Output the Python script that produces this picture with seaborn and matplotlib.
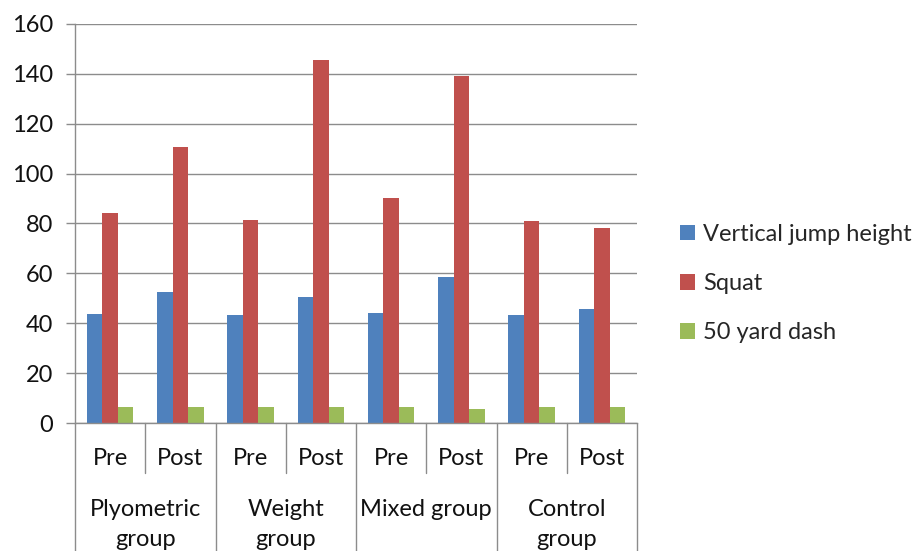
import pandas as pd
import seaborn as sns
import matplotlib.pyplot as plt

# Chart data
groups = [['Plyometric', 'group'], ['Weight', 'group'], ['Mixed group'], ['Control', 'group']]
phases = ['Pre', 'Post']
measures = ['Vertical jump height', 'Squat', '50 yard dash']

vertical_jump = [43.7, 52.4, 43.2, 50.4, 44.1, 58.5, 43.2, 45.6]
squat = [84.1, 110.5, 81.6, 145.4, 90.4, 139.3, 81.2, 78.0]
dash_50 = [6.5, 6.5, 6.5, 6.5, 6.5, 5.6, 6.5, 6.5]

colors = ['#4F81BD', '#C0504D', '#9BBB59']

# Build long-form table
slots = [f'{" ".join(g)}|{p}' for g in groups for p in phases]
rows = []
for name, vals in zip(measures, [vertical_jump, squat, dash_50]):
    for slot, v in zip(slots, vals):
        rows.append({'slot': slot, 'measure': name, 'value': v})
df = pd.DataFrame(rows)

sns.set_style('white')
plt.rcParams['font.family'] = ['Lato', 'DejaVu Sans']
fs = 17
grey = '#8c8c8c'
txt = '#111111'

fig = plt.figure(figsize=(9.23, 5.51), dpi=100)
ax = fig.add_axes([75 / 923, 1 - 423 / 551, (637 - 75) / 923, 399 / 551])

_ = sns.barplot(data=df, x='slot', y='value', hue='measure', order=slots,
                hue_order=measures, palette=colors, width=0.66, saturation=1,
                linewidth=0, ax=ax, legend=True)

# Axes styling
ax.set_ylim(0, 160)
ax.set_yticks(range(0, 161, 20))
ax.set_xlim(-0.5, len(slots) - 0.5)
ax.yaxis.grid(True, color=grey, linewidth=1)
ax.set_axisbelow(True)
for s in ['top', 'right']:
    ax.spines[s].set_visible(False)
for s in ['left', 'bottom']:
    ax.spines[s].set_color(grey)
    ax.spines[s].set_linewidth(1)
ax.tick_params(axis='y', length=6.5, color=grey, width=1, pad=9,
               labelsize=fs, labelcolor=txt, left=True)
ax.set_xticks([])
ax.set_xlabel('')
ax.set_ylabel('')

# Multi-level category axis
tr = ax.get_xaxis_transform()
for i, slot in enumerate(slots):
    ax.text(i, -0.088, slot.split('|')[1], transform=tr, ha='center',
            va='center', fontsize=fs, color=txt)
line_y = [-0.218, -0.292]
for j, g in enumerate(groups):
    for k, part in enumerate(g):
        ax.text(2 * j + 0.5, line_y[k], part, transform=tr, ha='center',
                va='center', fontsize=fs, color=txt)
for j in range(len(groups)):
    ax.plot([2 * j + 0.5] * 2, [0, -0.125], transform=tr, color=grey,
            lw=1, clip_on=False)
for b in range(len(groups) + 1):
    ax.plot([2 * b - 0.5] * 2, [0, -0.33], transform=tr, color=grey,
            lw=1, clip_on=False)

# Legend
ax.legend(loc='center left', bbox_to_anchor=(680 / 923, 1 - 283.5 / 551),
          bbox_transform=fig.transFigure, frameon=False, fontsize=fs,
          handlelength=0.64, handleheight=0.64, handletextpad=0.35,
          labelspacing=1.2, borderpad=0, borderaxespad=0)

fig.savefig('out.png', dpi=100)
